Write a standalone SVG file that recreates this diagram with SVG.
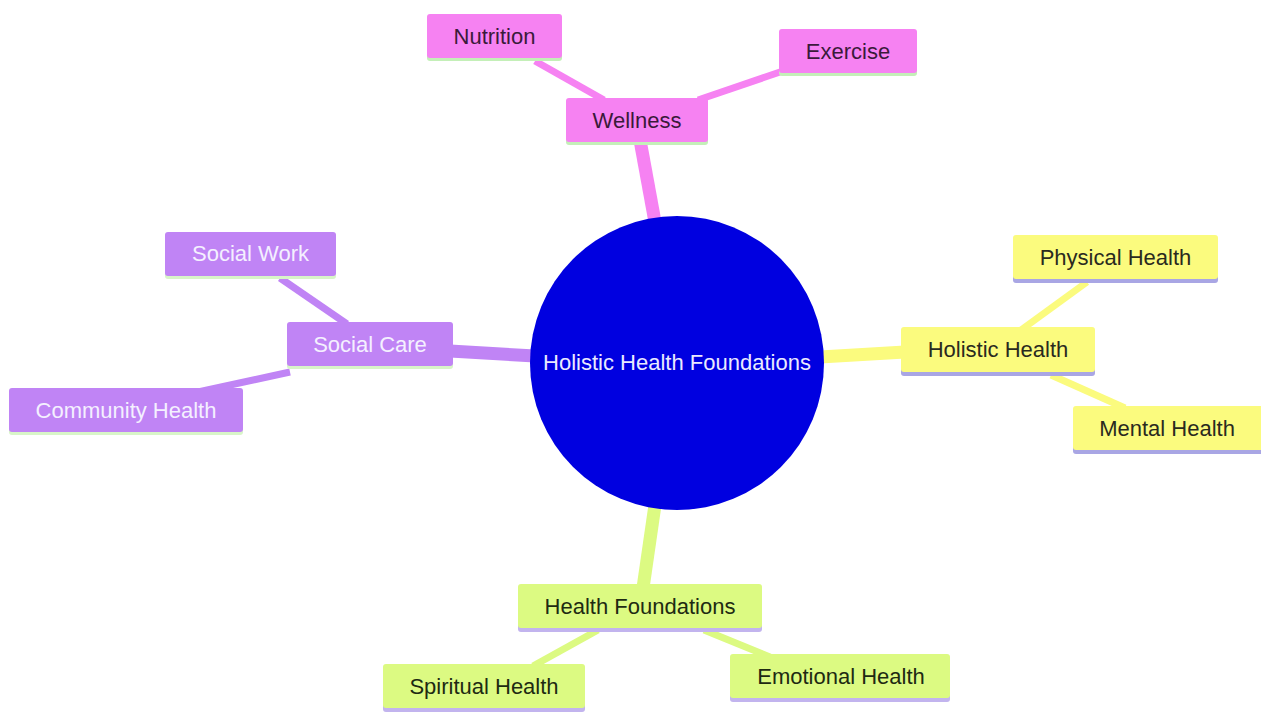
<svg xmlns="http://www.w3.org/2000/svg" width="1261" height="713" viewBox="0 0 1261 713">
<style>
  text { font-family: "Liberation Sans", Arial, sans-serif; font-size: 22px; text-anchor: middle; dominant-baseline: central; }
  .pink rect.b { fill: #f682f2; }
  .pink rect.s { fill: #c4efb8; }
  .pink text { fill: #3a1a3a; }
  .purple rect.b { fill: #c084f5; }
  .purple rect.s { fill: #d8f5c8; }
  .purple text { fill: #f4f0ff; }
  .yellow rect.b { fill: #fbfb7e; }
  .yellow rect.s { fill: #a9a6e4; }
  .yellow text { fill: #2a2a1e; }
  .green rect.b { fill: #dcfa82; }
  .green rect.s { fill: #c2b4ee; }
  .green text { fill: #1e2a12; }
  .e { fill: none; stroke-linecap: butt; }
  .ep { stroke: #f682f2; }
  .eu { stroke: #c084f5; }
  .ey { stroke: #fbfb7e; }
  .eg { stroke: #dcfa82; }
  .w1 { stroke-width: 13; }
  .w2 { stroke-width: 7; }
</style>
<rect width="1261" height="713" fill="#ffffff"/>
<g id="connectors">
  <line class="e ep w1" x1="655" y1="222" x2="640" y2="140"/>
  <line class="e eu w1" x1="535" y1="356" x2="450" y2="351"/>
  <line class="e ey w1" x1="820" y1="357" x2="905" y2="352"/>
  <line class="e eg w1" x1="655" y1="505" x2="643" y2="588"/>
  <line class="e ep w2" x1="604" y1="100" x2="535" y2="61"/>
  <line class="e ep w2" x1="698" y1="100" x2="780" y2="72"/>
  <line class="e eu w2" x1="347" y1="324" x2="280" y2="278"/>
  <line class="e eu w2" x1="290" y1="372" x2="198" y2="392"/>
  <line class="e ey w2" x1="1021" y1="330" x2="1087" y2="282"/>
  <line class="e ey w2" x1="1051" y1="375" x2="1125" y2="408"/>
  <line class="e eg w2" x1="598" y1="630" x2="533" y2="666"/>
  <line class="e eg w2" x1="704" y1="630" x2="770" y2="657"/>
</g>
<g id="root">
  <circle cx="677" cy="363" r="147" fill="#0000e0"/>
  <text x="677" y="362" fill="#eaeaff">Holistic Health Foundations</text>
</g>
<g id="wellness" class="pink">
  <rect class="s" x="566" y="101" width="142" height="44" rx="3"/>
  <rect class="b" x="566" y="98" width="142" height="44" rx="3"/>
  <text x="637" y="120">Wellness</text>
</g>
<g id="nutrition" class="pink">
  <rect class="s" x="427" y="17" width="135" height="44" rx="3"/>
  <rect class="b" x="427" y="14" width="135" height="44" rx="3"/>
  <text x="494.5" y="36">Nutrition</text>
</g>
<g id="exercise" class="pink">
  <rect class="s" x="779" y="32" width="138" height="44" rx="3"/>
  <rect class="b" x="779" y="29" width="138" height="44" rx="3"/>
  <text x="848" y="51">Exercise</text>
</g>
<g id="socialcare" class="purple">
  <rect class="s" x="287" y="325" width="166" height="44" rx="3"/>
  <rect class="b" x="287" y="322" width="166" height="44" rx="3"/>
  <text x="370" y="344">Social Care</text>
</g>
<g id="socialwork" class="purple">
  <rect class="s" x="165" y="235" width="171" height="44" rx="3"/>
  <rect class="b" x="165" y="232" width="171" height="44" rx="3"/>
  <text x="250.5" y="253">Social Work</text>
</g>
<g id="community" class="purple">
  <rect class="s" x="9" y="391" width="234" height="44" rx="3"/>
  <rect class="b" x="9" y="388" width="234" height="44" rx="3"/>
  <text x="126" y="410">Community Health</text>
</g>
<g id="holistic" class="yellow">
  <rect class="s" x="901" y="330" width="194" height="46" rx="3"/>
  <rect class="b" x="901" y="327" width="194" height="45" rx="3"/>
  <text x="998" y="349">Holistic Health</text>
</g>
<g id="physical" class="yellow">
  <rect class="s" x="1013" y="238" width="205" height="45" rx="3"/>
  <rect class="b" x="1013" y="235" width="205" height="44" rx="3"/>
  <text x="1115.5" y="257">Physical Health</text>
</g>
<g id="mental" class="yellow">
  <rect class="s" x="1073" y="409" width="192" height="45" rx="3"/>
  <rect class="b" x="1073" y="406" width="192" height="44" rx="3"/>
  <text x="1167" y="428">Mental Health</text>
</g>
<g id="foundations" class="green">
  <rect class="s" x="518" y="587" width="244" height="45" rx="3"/>
  <rect class="b" x="518" y="584" width="244" height="44" rx="3"/>
  <text x="640" y="606">Health Foundations</text>
</g>
<g id="spiritual" class="green">
  <rect class="s" x="383" y="667" width="202" height="45" rx="3"/>
  <rect class="b" x="383" y="664" width="202" height="44" rx="3"/>
  <text x="484" y="686">Spiritual Health</text>
</g>
<g id="emotional" class="green">
  <rect class="s" x="730" y="657" width="220" height="45" rx="3"/>
  <rect class="b" x="730" y="654" width="220" height="44" rx="3"/>
  <text x="841" y="676">Emotional Health</text>
</g>
</svg>
